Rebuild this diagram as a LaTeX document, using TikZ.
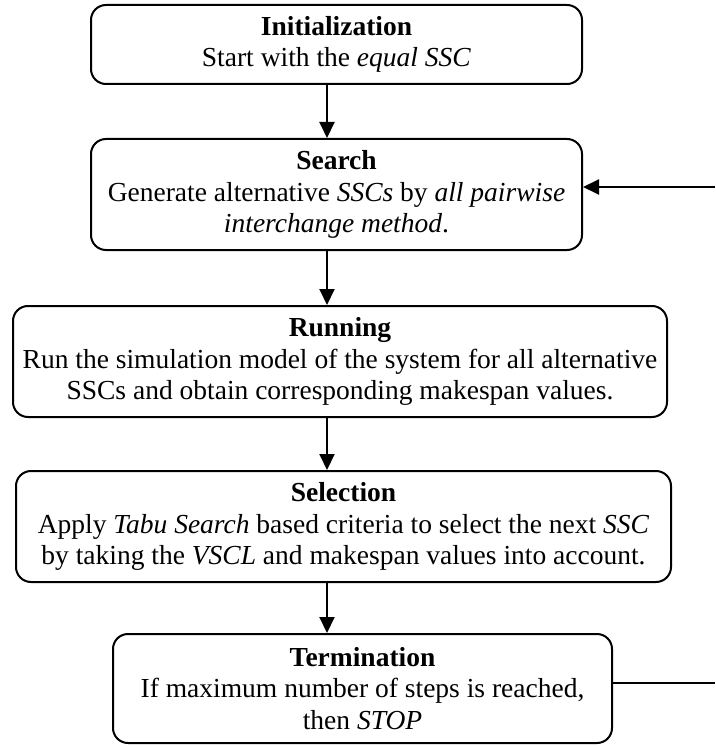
\documentclass[tikz,border=0pt]{standalone}
\usepackage{fontspec}
\setmainfont{Liberation Serif}
\usetikzlibrary{arrows.meta}

\tikzset{
  stage/.style={draw=black, line width=2pt, rounded corners=15pt,
    inner sep=0pt, align=center, anchor=center,
    font=\fontsize{27.5pt}{31.6pt}\selectfont},
  flow/.style={line width=2pt, -{Triangle[length=16pt,width=15pt]}},
  plain/.style={line width=2pt},
}

\begin{document}
\begin{tikzpicture}[x=1pt, y=-1pt]
  \useasboundingbox (0,0) rectangle (715,746);

  % process stages, top to bottom
  \node[stage, minimum width=491pt, minimum height=79pt] (init) at (336.5,44.5)
    {\textbf{Initialization}\\Start with the \textit{equal SSC}};
  \node[stage, minimum width=491pt, minimum height=111pt] (search) at (336.5,194.5)
    {\textbf{Search}\\Generate alternative \textit{SSCs} by \textit{all pairwise}\\\textit{interchange method}.};
  \node[stage, minimum width=654pt, minimum height=111pt] (run) at (340,361.5)
    {\textbf{Running}\\Run the simulation model of the system for all alternative\\SSCs and obtain corresponding makespan values.};
  \node[stage, minimum width=655pt, minimum height=111pt] (select) at (343.5,526.5)
    {\textbf{Selection}\\Apply \textit{Tabu Search} based criteria to select the next \textit{SSC}\\by taking the \textit{VSCL} and makespan values into account.};
  \node[stage, minimum width=499pt, minimum height=109pt] (term) at (362.5,688.5)
    {\textbf{Termination}\\If maximum number of steps is reached,\\then \textit{STOP}};

  % vertical flow
  \coordinate (axis) at (327,0);
  \draw[flow] (init.south -| axis) -- (search.north -| axis);
  \draw[flow] (search.south -| axis) -- (run.north -| axis);
  \draw[flow] (run.south -| axis) -- (select.north -| axis);
  \draw[flow] (select.south -| axis) -- (term.north -| axis);

  % feedback loop back to the search stage
  \coordinate (loopin) at (715,187);
  \coordinate (loopout) at (715,683);
  \draw[flow] (loopin) -- (loopin -| search.east);
  \draw[plain] (loopout -| term.east) -- (loopout);
\end{tikzpicture}
\end{document}
